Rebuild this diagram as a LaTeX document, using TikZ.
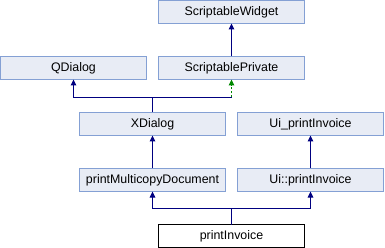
\documentclass[tikz,border=0pt]{standalone}
\usepackage{fontspec}
\setmainfont{Liberation Sans}
\usetikzlibrary{arrows.meta}
\definecolor{boxfill}{HTML}{E8ECF5}
\definecolor{boxline}{HTML}{84A0D4}
\definecolor{pubedge}{HTML}{000080}
\definecolor{protedge}{HTML}{008800}
\begin{document}
\begin{tikzpicture}[x=1pt,y=-1pt,
  classbox/.style={draw=boxline, fill=boxfill, line width=1pt, rectangle,
    minimum width=146pt, minimum height=23pt, inner sep=0pt, outer sep=0pt,
    font=\fontsize{12.4}{14}\selectfont},
  focusbox/.style={classbox, draw=black, fill=white},
  pub/.style={draw=pubedge, line width=1pt},
  prot/.style={draw=protedge, line width=1pt, dash pattern=on 2pt off 2pt},
  tip/.style={-{Triangle[length=6pt,width=5.5pt]}},
  ]
\useasboundingbox (0,0) rectangle (385,248);
% class boxes
\node[classbox] (sw) at (231.5,12) {ScriptableWidget};
\node[classbox] (qd) at (73.5,68) {QDialog};
\node[classbox] (sp) at (231.5,68) {ScriptablePrivate};
\node[classbox] (xd) at (152.5,124) {XDialog};
\node[classbox] (uip) at (310.5,124) {Ui\_printInvoice};
\node[classbox] (pmd) at (152.5,180) {printMulticopyDocument};
\node[classbox] (uin) at (310.5,180) {Ui::printInvoice};
\node[focusbox] (pi) at (231.5,236) {printInvoice};
% inheritance connectors
\draw[pub,tip] (sp.north) -- (sw.south);
\coordinate (j1) at (152.5,97.5);
\draw[pub] (xd.north) -- (j1);
\draw[pub,tip] (j1) -| (qd.south);
\draw[pub] (j1) -- (sp.south |- j1) coordinate (k1);
\draw[prot,tip] (k1) -- (sp.south);
\draw[pub,tip] (pmd.north) -- (xd.south);
\draw[pub,tip] (uin.north) -- (uip.south);
\coordinate (j2) at (231.5,208.5);
\draw[pub] (pi.north) -- (j2);
\draw[pub,tip] (j2) -| (pmd.south);
\draw[pub,tip] (j2) -| (uin.south);
\end{tikzpicture}
\end{document}
